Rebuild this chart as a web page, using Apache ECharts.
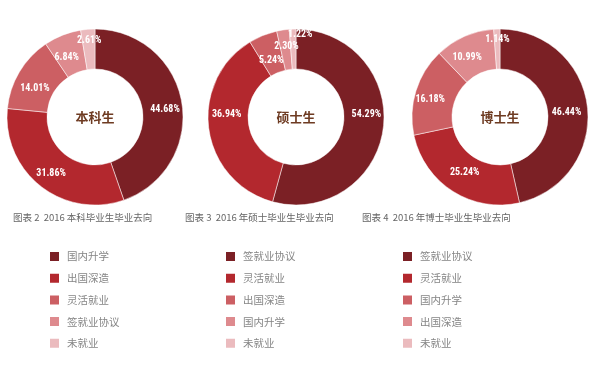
<!DOCTYPE html>
<html><head><meta charset="utf-8">
<script src="https://cdn.jsdelivr.net/npm/echarts@6/dist/echarts.min.js"></script>
<style>html,body{margin:0;padding:0;background:#fff}#c{width:600px;height:365px}</style>
</head><body><div id="c"></div>
<script>
const centerLabels = ['本科生', '硕士生', '博士生'];
const captions = ['图表 2  2016 本科毕业生毕业去向', '图表 3  2016 年硕士毕业生毕业去向', '图表 4  2016 年博士毕业生毕业去向'];
const cats1 = ['国内升学', '出国深造', '灵活就业', '签就业协议', '未就业'];
const vals1 = [44.68, 31.86, 14.01, 6.84, 2.61];
const cats2 = ['签就业协议', '灵活就业', '出国深造', '国内升学', '未就业'];
const vals2 = [54.29, 36.94, 5.24, 2.30, 1.22];
const cats3 = ['签就业协议', '灵活就业', '国内升学', '出国深造', '未就业'];
const vals3 = [46.44, 25.24, 16.18, 10.99, 1.14];

const palette = ['#7b2025', '#b3282e', '#cc5f63', '#de8a8e', '#ebbbbe'];
const cats = [cats1, cats2, cats3];
const vals = [vals1, vals2, vals3];
const cx = [95, 296, 500];
const legendX = [48, 224, 401];
const captionX = [13, 185, 362];
// label nudges (style only)
const labelNudge = [
  [[0, 4], [0, 1], [1, 8], [-2, 6], [0, -6]],
  [[0, -12], [1, -12], [2, 9], [1, 0], [7, -12]],
  [[-4, 3], [3, -4], [-2, 3], [-4, 5], [0, -7]]
];

const series = [], legends = [], titles = [];
for (let i = 0; i < 3; i++) {
  series.push({
    type: 'pie', center: [cx[i], 117], radius: [48, 88], startAngle: 90,
    silent: true, animation: false, avoidLabelOverlap: false,
    itemStyle: { borderColor: '#fff', borderWidth: 0.5 },
    label: { show: true, position: 'inside', color: '#fff', fontSize: 10, fontWeight: 'bold',
      fontFamily: '"Roboto Condensed", "DejaVu Sans Condensed", Roboto',
      formatter: p => p.value.toFixed(2) + '%' },
    labelLine: { show: false },
    labelLayout: { hideOverlap: false },
    data: cats[i].map((n, k) => ({ name: n + '#' + i, value: vals[i][k],
      itemStyle: { color: palette[k] }, label: { offset: labelNudge[i][k] } }))
  });
  legends.push({
    orient: 'vertical', left: legendX[i], top: 250, padding: 0,
    itemWidth: 11, itemHeight: 11, itemGap: 8.7, icon: 'rect', selectedMode: false,
    textStyle: { color: '#858585', fontSize: 10.5, fontFamily: 'Noto Sans CJK SC', padding: [0, 0, 0, 2] },
    formatter: n => n.split('#')[0],
    data: cats[i].map((n, k) => ({ name: n + '#' + i, itemStyle: { color: palette[k] } }))
  });
  titles.push({
    text: centerLabels[i], left: cx[i], top: 111, textAlign: 'center', padding: 0,
    textStyle: { color: '#6e3b22', fontSize: 13, fontWeight: 'bold', fontFamily: 'Noto Sans CJK SC' }
  });
  titles.push({
    text: captions[i], left: captionX[i], top: 213, padding: 0,
    textStyle: { color: '#666', fontSize: 9.5, fontWeight: 'normal', fontFamily: 'Noto Sans CJK SC' }
  });
}

const chart = echarts.init(document.getElementById('c'));
chart.setOption({ animation: false, title: titles, legend: legends, series: series });
</script></body></html>
